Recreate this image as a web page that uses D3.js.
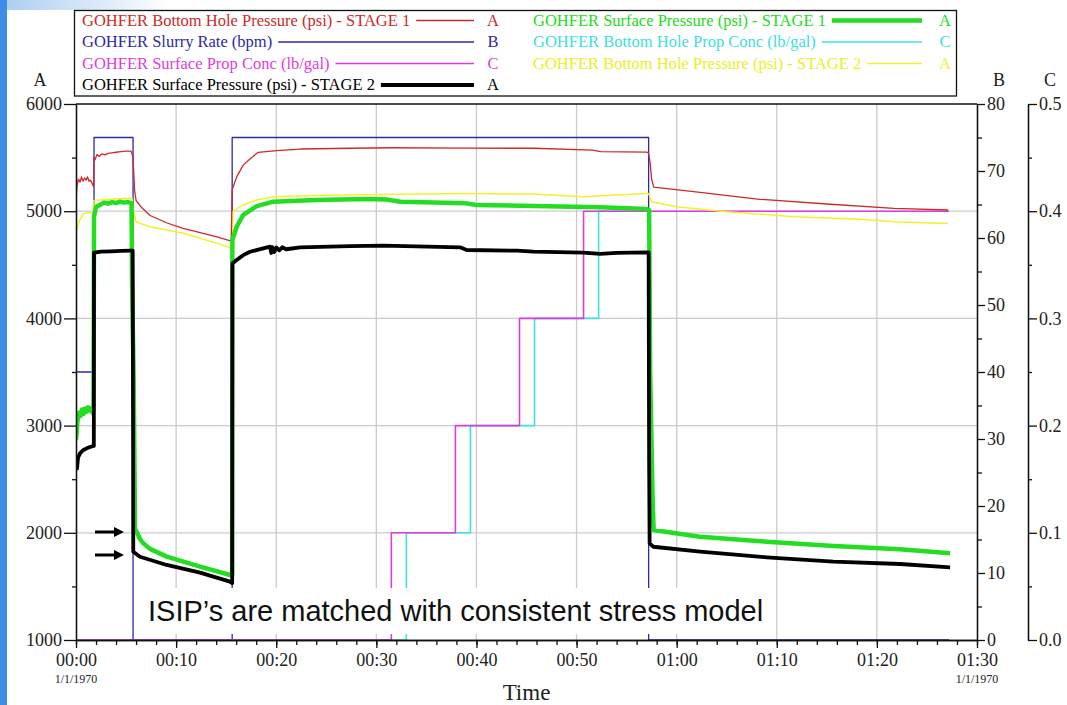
<!DOCTYPE html>
<html>
<head>
<meta charset="utf-8">
<script src="https://cdn.jsdelivr.net/npm/d3@7"></script>
<style>
  body { margin: 0; background: #fff; }
  svg { display: block; }
</style>
</head>
<body>
<svg id="chart" width="1067" height="705"></svg>
<script>
// ---- data (time in minutes from 00:00) ----
const slurryRate = [[0,40],[1.8,40],[1.8,75],[5.7,75],[5.7,0],[15.6,0],[15.6,75],[57.2,75],[57.2,0],[87.2,0]];

const surfacePropConc = [[0,0],[31.5,0],[31.5,0.1],[37.9,0.1],[37.9,0.2],[44.3,0.2],[44.3,0.3],[50.7,0.3],[50.7,0.4],[87.2,0.4]];

const bottomHolePropConc = [[0,0],[33.0,0],[33.0,0.1],[39.4,0.1],[39.4,0.2],[45.8,0.2],[45.8,0.3],[52.2,0.3],[52.2,0.4],[57.2,0.4]];

const bhpStage1 = [[0,5100],[0.1,5240],[0.25,5300],[0.4,5270],[0.55,5320],[0.7,5280],[0.85,5310],[1.0,5290],
  [1.15,5320],[1.3,5280],[1.45,5290],[1.6,5260],[1.75,5230],[1.8,5500],[1.9,5480],[2.1,5530],[2.3,5510],
  [2.6,5535],[2.9,5525],[3.2,5540],[3.6,5545],[4.0,5550],[4.5,5555],[5.0,5560],[5.5,5560],[5.65,5520],
  [5.75,5400],[5.85,5200],[6.0,5100],[6.5,5040],[7.4,4960],[9.1,4890],[10.7,4840],[12.4,4800],[14.1,4760],
  [15.5,4720],[15.6,5200],[16.05,5320],[16.7,5430],[17.4,5490],[18.2,5549],[20.05,5565],[22.4,5580],
  [27.4,5587],[31.4,5592],[39,5588],[45.7,5587],[51.6,5570],[52.4,5555],[57.0,5552],[57.2,5540],
  [57.35,5450],[57.5,5300],[57.7,5225],[61.7,5182],[68.3,5111],[75,5067],[81.7,5027],[87.1,5011]];

const bhpStage2 = [[0,4800],[0.3,4900],[0.7,4975],[1.2,4985],[1.75,4990],[1.8,5100],[3,5110],[4.5,5118],
  [5.6,5120],[5.75,5000],[6.0,4900],[7.4,4855],[10.7,4794],[14.1,4700],[15.6,4654],[15.65,4995],
  [16.7,5058],[18.05,5104],[19.7,5135],[25.7,5150],[32.4,5157],[39,5164],[45.7,5160],[50.7,5135],
  [54,5150],[57.0,5166],[57.2,5166],[57.5,5089],[60,5042],[65,4995],[71.7,4949],[78.3,4924],[81.7,4902],[87.1,4886]];

const surfaceStage1 = [[0,2870],[0.15,3050],[0.3,3120],[0.45,3090],[0.6,3150],[0.75,3110],[0.9,3160],
  [1.05,3130],[1.2,3170],[1.35,3140],[1.5,3160],[1.65,3120],[1.75,3150],[1.8,4950],[2.0,5040],[2.4,5060],
  [2.8,5080],[3.2,5070],[3.6,5085],[4.0,5075],[4.4,5090],[4.8,5080],[5.2,5085],[5.55,5075],[5.6,4330],
  [5.75,3500],[5.9,2030],[6.06,2010],[6.4,1940],[6.72,1902],[7.4,1850],[9.06,1778],[12.4,1684],[15.4,1606],
  [15.6,1600],[15.62,4731],[16.05,4855],[16.7,4965],[18.05,5048],[19.7,5089],[24,5104],[29,5113],[31,5110],
  [32.4,5089],[39,5073],[40,5058],[45.7,5048],[52.4,5036],[57.0,5020],[57.25,5010],[57.35,3500],[57.6,2300],
  [57.7,2026],[62.3,1964],[69,1917],[75.7,1877],[82.3,1846],[87.3,1809]];

const surfaceStage2 = [[0,2650],[0.1,2600],[0.2,2700],[0.4,2741],[0.7,2770],[1.07,2788],[1.4,2800],[1.73,2810],
  [1.78,2810],[1.8,4613],[2.5,4622],[3.5,4625],[4.5,4630],[5.4,4632],[5.66,4632],[5.7,3071],[5.72,1824],
  [6.39,1777],[9.06,1700],[12.39,1628],[15.38,1544],[15.6,1530],[15.62,4513],[16.05,4545],[16.7,4590],
  [17.38,4622],[19.38,4669],[19.5,4610],[19.6,4665],[19.8,4620],[20.0,4662],[20.3,4635],[20.6,4664],
  [21.0,4645],[22.38,4663],[27.37,4675],[30.7,4678],[38.36,4663],[39.03,4638],[44.03,4632],[45.68,4622],
  [50.68,4613],[52.35,4601],[54,4612],[57.01,4616],[57.2,4616],[57.25,2679],[57.3,1902],[57.67,1870],
  [62.34,1824],[69,1771],[75.65,1731],[82.32,1709],[87.31,1678]];

// ---- tick labels ----
const timeTicks = ["00:00","00:10","00:20","00:30","00:40","00:50","01:00","01:10","01:20","01:30"];
const pressureTicks = [1000,2000,3000,4000,5000,6000];
const rateTicks = [0,10,20,30,40,50,60,70,80];
const concTicks = [0,0.1,0.2,0.3,0.4,0.5];

// ---- legend entries ----
const legendLeft = [
  {label:"GOHFER Bottom Hole Pressure (psi) - STAGE 1", axis:"A", color:"#cc2a2a", width:1.3},
  {label:"GOHFER Slurry Rate (bpm)", axis:"B", color:"#2b2ba6", width:1.3},
  {label:"GOHFER Surface Prop Conc (lb/gal)", axis:"C", color:"#dd3ddd", width:1.5},
  {label:"GOHFER Surface Pressure (psi) - STAGE 2", axis:"A", color:"#000000", width:4}
];
const legendRight = [
  {label:"GOHFER Surface Pressure (psi) - STAGE 1", axis:"A", color:"#22dd22", width:4.5},
  {label:"GOHFER Bottom Hole Prop Conc (lb/gal)", axis:"C", color:"#3ee0e0", width:1.5},
  {label:"GOHFER Bottom Hole Pressure (psi) - STAGE 2", axis:"A", color:"#f2f22a", width:1.5}
];

const svg = d3.select("#chart");
const serif = "'Liberation Serif', 'Times New Roman', serif";

// page background strip and header fade
const defs = svg.append("defs");
const grad = defs.append("linearGradient").attr("id","hdr").attr("x1","0").attr("x2","1");
grad.append("stop").attr("offset","0").attr("stop-color","#a9cdf2");
grad.append("stop").attr("offset","1").attr("stop-color","#ffffff");
svg.append("rect").attr("x",0).attr("y",0).attr("width",170).attr("height",10).attr("fill","url(#hdr)");
svg.append("rect").attr("x",0).attr("y",0).attr("width",7).attr("height",705).attr("fill","#3b8de6");

// ---- scales ----
const pL = 76, pR = 977, pT = 104, pB = 640;
const x = d3.scaleLinear().domain([0,90]).range([pL,pR]);
const yA = d3.scaleLinear().domain([1000,6000]).range([pB,pT]);
const yB = d3.scaleLinear().domain([0,80]).range([pB,pT]);
const yC = d3.scaleLinear().domain([0,0.5]).range([pB,pT]);

// ---- grid ----
const grid = svg.append("g").attr("stroke","#cbcbcb").attr("stroke-width",1.3);
grid.selectAll("line.v").data(d3.range(10,90,10)).join("line")
  .attr("x1",d=>x(d)).attr("x2",d=>x(d)).attr("y1",pT).attr("y2",pB);
grid.selectAll("line.h").data([2000,3000,4000,5000]).join("line")
  .attr("x1",pL).attr("x2",pR).attr("y1",d=>yA(d)).attr("y2",d=>yA(d));

// ---- series ----
defs.append("clipPath").attr("id","plot").append("rect")
  .attr("x",pL).attr("y",pT-3).attr("width",pR-pL).attr("height",pB-pT+3);
const plot = svg.append("g").attr("clip-path","url(#plot)");
function draw(data, yScale, color, width) {
  const line = d3.line().x(d=>x(d[0])).y(d=>yScale(d[1]));
  plot.append("path").datum(data).attr("d",line).attr("fill","none")
    .attr("stroke",color).attr("stroke-width",width).attr("stroke-linejoin","round");
}
draw(slurryRate, yB, "#2b2ba6", 1.3);
draw(bottomHolePropConc, yC, "#3ee0e0", 1.6);
draw(surfacePropConc, yC, "#dd3ddd", 1.6);
draw(bhpStage2, yA, "#f2f22a", 1.5);
draw(bhpStage1, yA, "#cc2a2a", 1.3);
draw(surfaceStage1, yA, "#22dd22", 4.5);
draw(surfaceStage2, yA, "#000000", 3.8);

// ---- axes ----
function styleAxis(g) {
  g.selectAll("path,line").attr("stroke","#111").attr("stroke-width",1.3);
  g.selectAll("text").attr("font-family",serif).attr("font-size",18).attr("fill","#222");
}
// frame top
svg.append("line").attr("x1",pL).attr("x2",pR).attr("y1",pT).attr("y2",pT)
  .attr("stroke","#111").attr("stroke-width",1.3);

// A (left)
svg.append("g").attr("transform",`translate(${pL},0)`)
  .call(d3.axisLeft(yA).tickValues(d3.range(1500,6000,1000)).tickSize(4).tickSizeOuter(0).tickFormat(""))
  .call(styleAxis);
svg.append("g").attr("transform",`translate(${pL},0)`)
  .call(d3.axisLeft(yA).tickValues(pressureTicks).tickSize(12).tickSizeOuter(0).tickPadding(2).tickFormat(d3.format("d")))
  .call(styleAxis);

// time (bottom)
svg.append("g").attr("transform",`translate(0,${pB})`)
  .call(d3.axisBottom(x).tickValues(d3.range(0,91,2)).tickSize(5).tickSizeOuter(0).tickFormat(""))
  .call(styleAxis);
svg.append("g").attr("transform",`translate(0,${pB})`)
  .call(d3.axisBottom(x).tickValues(d3.range(0,91,10)).tickSize(8).tickSizeOuter(0).tickPadding(5)
    .tickFormat((d,i)=>timeTicks[i]))
  .call(styleAxis);
svg.selectAll(".dateLbl").data([0,90]).join("text")
  .attr("x",d=>x(d)).attr("y",683).attr("text-anchor","middle")
  .attr("font-family",serif).attr("font-size",12).attr("fill","#222").text("1/1/1970");
svg.append("text").attr("x",(pL+pR)/2).attr("y",700).attr("text-anchor","middle")
  .attr("font-family",serif).attr("font-size",23).attr("fill","#222").text("Time");

// B (right)
svg.append("g").attr("transform",`translate(${pR},0)`)
  .call(d3.axisRight(yB).tickValues(d3.range(5,80,10)).tickSize(5).tickSizeOuter(0).tickFormat(""))
  .call(styleAxis);
svg.append("g").attr("transform",`translate(${pR},0)`)
  .call(d3.axisRight(yB).tickValues(rateTicks).tickSize(8).tickSizeOuter(0).tickPadding(2))
  .call(styleAxis);

// C (far right)
const cx = 1028;
svg.append("g").attr("transform",`translate(${cx},0)`)
  .call(d3.axisRight(yC).tickValues(d3.range(0.05,0.5,0.1)).tickSize(4).tickSizeOuter(0).tickFormat(""))
  .call(styleAxis);
svg.append("g").attr("transform",`translate(${cx},0)`)
  .call(d3.axisRight(yC).tickValues(concTicks).tickSize(9).tickSizeOuter(0).tickPadding(2).tickFormat(d3.format(".1f")))
  .call(styleAxis);

// axis letters
[["A",40],["B",999],["C",1050]].forEach(([t,px]) => {
  svg.append("text").attr("x",px).attr("y",86).attr("text-anchor","middle")
    .attr("font-family",serif).attr("font-size",18).attr("fill","#222").text(t);
});

// ---- legend ----
svg.append("rect").attr("x",74.5).attr("y",10.5).attr("width",882).attr("height",85.5)
  .attr("fill","#fff").attr("stroke","#111").attr("stroke-width",1.3);
const rowY = [25.5, 47, 68.5, 90];
function legendColumn(items, tx, lineEnd, letterX) {
  items.forEach((it,i) => {
    const t = svg.append("text").attr("x",tx).attr("y",rowY[i])
      .attr("font-family",serif).attr("font-size",16.5).attr("fill",it.color==="#f2f22a"?"#eeee22":it.color)
      .text(it.label);
    const w = t.node().getComputedTextLength();
    svg.append("line").attr("x1",tx+w+6).attr("x2",lineEnd).attr("y1",rowY[i]-5).attr("y2",rowY[i]-5)
      .attr("stroke",it.color).attr("stroke-width",it.width);
    svg.append("text").attr("x",letterX).attr("y",rowY[i]).attr("text-anchor","middle")
      .attr("font-family",serif).attr("font-size",16.5).attr("fill",it.color).text(it.axis);
  });
}
legendColumn(legendLeft, 82, 474, 493);
legendColumn(legendRight, 533, 922, 945);

// ---- annotation ----
svg.append("rect").attr("x",143).attr("y",588).attr("width",624).attr("height",46).attr("fill","#fff");
svg.append("text").attr("x",148).attr("y",621).attr("font-family","'Liberation Sans', Arial, sans-serif")
  .attr("font-size",29).attr("fill","#111").text("ISIP’s are matched with consistent stress model");

// ISIP pointers
[532, 555].forEach(yy => {
  svg.append("line").attr("x1",95).attr("x2",117).attr("y1",yy).attr("y2",yy)
    .attr("stroke","#000").attr("stroke-width",3);
  svg.append("path").attr("d",`M124,${yy} L114,${yy-5} L114,${yy+5} Z`).attr("fill","#000");
});
</script>
</body>
</html>
